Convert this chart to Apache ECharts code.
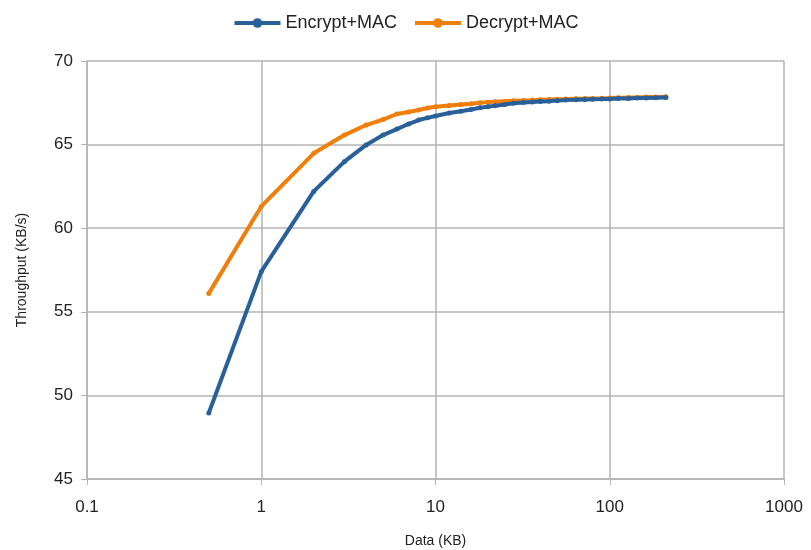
<!DOCTYPE html>
<html>
<head>
<meta charset="utf-8">
<script src="https://cdn.jsdelivr.net/npm/echarts@6/dist/echarts.min.js"></script>
<style>
html,body{margin:0;padding:0;background:#fff;}
#chart{width:811px;height:550px;}
</style>
</head>
<body>
<div id="chart"></div>
<script>
const dataKB = [0.5, 1, 2, 3, 4, 5, 6, 7, 8, 9, 10, 12, 14, 16, 18, 20, 22, 25, 28, 32, 36, 40, 45, 50, 56, 64, 72, 80, 90, 100, 112, 128, 144, 162, 184, 210];
const encryptMAC = [48.95, 57.4, 62.2, 63.98, 64.98, 65.57, 65.93, 66.23, 66.47, 66.6, 66.71, 66.89, 67.0, 67.1, 67.2, 67.27, 67.33, 67.4, 67.47, 67.52, 67.55, 67.58, 67.6, 67.63, 67.66, 67.68, 67.7, 67.71, 67.72, 67.73, 67.75, 67.76, 67.78, 67.79, 67.8, 67.81];
const decryptMAC = [56.1, 61.3, 64.48, 65.57, 66.17, 66.5, 66.83, 66.95, 67.07, 67.19, 67.27, 67.34, 67.4, 67.45, 67.5, 67.54, 67.57, 67.6, 67.62, 67.64, 67.66, 67.68, 67.7, 67.71, 67.72, 67.74, 67.75, 67.76, 67.77, 67.78, 67.8, 67.81, 67.82, 67.84, 67.85, 67.86];
const xTickLabels = ['0.1', '1', '10', '100', '1000'];
const seriesNames = ['Encrypt+MAC', 'Decrypt+MAC'];

const pairs = arr => dataKB.map((x, i) => [x, arr[i]]);
const chart = echarts.init(document.getElementById('chart'));
const font = 'Liberation Sans, Arial, sans-serif';
const gridColor = '#b3b3b3';
chart.setOption({
  animation: false,
  textStyle: { fontFamily: font },
  legend: {
    top: 9, left: 'center',
    itemWidth: 46, itemHeight: 12, itemGap: 16,
    textStyle: { fontSize: 18, color: '#222', fontFamily: font },
    data: seriesNames.map(n => ({ name: n, lineStyle: { width: 4 } }))
  },
  grid: { left: 87, right: 27, top: 61, bottom: 71, containLabel: false, outerBoundsMode: 'none' },
  xAxis: {
    type: 'log', logBase: 10, min: 0.1, max: 1000,
    name: 'Data (KB)', nameLocation: 'middle', nameGap: 55,
    nameTextStyle: { fontSize: 14, color: '#222' },
    axisLine: { onZero: false, lineStyle: { color: gridColor, width: 1.5 } },
    axisTick: { show: true, length: 6, lineStyle: { color: gridColor } },
    splitLine: { show: true, lineStyle: { color: gridColor, width: 1.5 } },
    minorTick: { show: false },
    axisLabel: { fontSize: 17, color: '#222', margin: 20,
      formatter: v => { const s = Number(v.toPrecision(3)).toString(); return xTickLabels.includes(s) ? s : ''; } }
  },
  yAxis: {
    type: 'value', min: 45, max: 70, interval: 5,
    name: 'Throughput (KB/s)', nameLocation: 'middle', nameGap: 58, nameRotate: 90,
    nameTextStyle: { fontSize: 14, color: '#222' },
    axisLine: { show: true, lineStyle: { color: gridColor, width: 1.5 } },
    axisTick: { show: true, length: 6, lineStyle: { color: gridColor } },
    splitLine: { show: true, lineStyle: { color: gridColor, width: 1.5 } },
    axisLabel: { fontSize: 17, color: '#222', margin: 14 }
  },
  series: [
    { name: seriesNames[0], type: 'line', data: pairs(encryptMAC), z: 3,
      color: '#2a6099', symbol: 'circle', symbolSize: 5, showAllSymbol: true,
      lineStyle: { width: 4 } },
    { name: seriesNames[1], type: 'line', data: pairs(decryptMAC), z: 2,
      color: '#f07f09', symbol: 'circle', symbolSize: 5, showAllSymbol: true,
      lineStyle: { width: 4 } }
  ]
});
</script>
</body>
</html>
